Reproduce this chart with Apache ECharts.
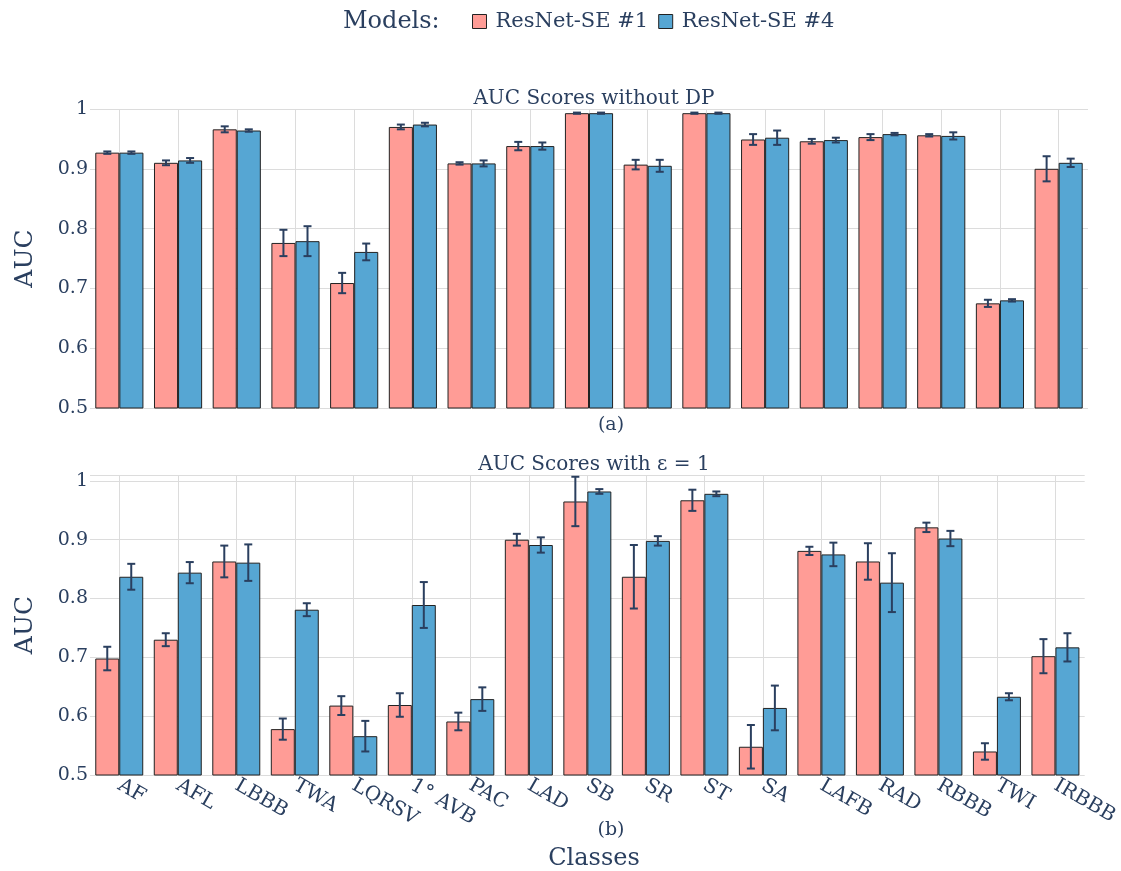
<!DOCTYPE html>
<html>
<head>
<meta charset="utf-8">
<script src="https://cdn.jsdelivr.net/npm/echarts@6/dist/echarts.min.js"></script>
<style>
  html, body { margin: 0; padding: 0; background: #fff; }
  #chart { width: 1121px; height: 871px; }
</style>
</head>
<body>
<div id="chart"></div>
<script>
var myChart = echarts.init(document.getElementById('chart'));

// classes
var classes = ['AF', 'AFL', 'LBBB', 'TWA', 'LQRSV', '1° AVB', 'PAC', 'LAD', 'SB',
               'SR', 'ST', 'SA', 'LAFB', 'RAD', 'RBBB', 'TWI', 'IRBBB'];

// (a) without DP
var auc1NoDP = [0.927, 0.910, 0.966, 0.776, 0.709, 0.970, 0.909, 0.938, 0.993,
                0.907, 0.993, 0.949, 0.946, 0.953, 0.956, 0.675, 0.900];
var err1NoDP = [0.002, 0.004, 0.005, 0.022, 0.017, 0.004, 0.002, 0.007, 0.001,
                0.008, 0.001, 0.009, 0.004, 0.005, 0.002, 0.006, 0.021];
var auc4NoDP = [0.927, 0.914, 0.964, 0.779, 0.761, 0.974, 0.909, 0.938, 0.993,
                0.905, 0.993, 0.952, 0.948, 0.958, 0.955, 0.680, 0.910];
var err4NoDP = [0.002, 0.004, 0.002, 0.025, 0.014, 0.003, 0.005, 0.006, 0.001,
                0.010, 0.001, 0.012, 0.004, 0.002, 0.006, 0.002, 0.007];

// (b) epsilon = 1
var auc1Eps = [0.698, 0.730, 0.863, 0.578, 0.618, 0.619, 0.591, 0.900, 0.965,
               0.837, 0.967, 0.548, 0.881, 0.863, 0.921, 0.540, 0.702];
var err1Eps = [0.020, 0.011, 0.027, 0.018, 0.016, 0.020, 0.015, 0.010, 0.042,
               0.054, 0.018, 0.037, 0.007, 0.031, 0.008, 0.014, 0.029];
var auc4Eps = [0.837, 0.844, 0.861, 0.781, 0.566, 0.789, 0.629, 0.891, 0.982,
               0.898, 0.978, 0.614, 0.875, 0.827, 0.902, 0.633, 0.717];
var err4Eps = [0.022, 0.018, 0.031, 0.011, 0.026, 0.039, 0.020, 0.013, 0.004,
               0.008, 0.004, 0.038, 0.020, 0.050, 0.013, 0.006, 0.024];

var models = ['ResNet-SE #1', 'ResNet-SE #4'];
var colors = ['#FF9C96', '#56A6D3'];

var textColor = '#2a3f5f';
var serif = '"DejaVu Serif", serif';
var catGap = 0.18;

function barSeries(name, idx, gridIdx, values) {
  return {
    name: name,
    type: 'bar',
    xAxisIndex: gridIdx,
    yAxisIndex: gridIdx,
    data: values,
    barGap: 0,
    barCategoryGap: (catGap * 100) + '%',
    itemStyle: { color: colors[idx], borderColor: '#222', borderWidth: 1 },
    z: 2
  };
}

// error bars drawn over grouped bars
function errSeries(idx, gridIdx, values, errs) {
  var data = values.map(function (v, i) { return [i, v - errs[i], v + errs[i]]; });
  return {
    type: 'custom',
    xAxisIndex: gridIdx,
    yAxisIndex: gridIdx,
    data: data,
    z: 5,
    silent: true,
    renderItem: function (params, api) {
      var band = api.size([1, 0])[0];
      var bw = band * (1 - catGap) / 2;
      var off = idx === 0 ? -bw / 2 : bw / 2;
      var lo = api.coord([api.value(0), api.value(1)]);
      var hi = api.coord([api.value(0), api.value(2)]);
      var x = lo[0] + off;
      var cap = 4;
      var st = { stroke: textColor, lineWidth: 2 };
      return {
        type: 'group',
        children: [
          { type: 'line', shape: { x1: x, y1: lo[1], x2: x, y2: hi[1] }, style: st },
          { type: 'line', shape: { x1: x - cap, y1: lo[1], x2: x + cap, y2: lo[1] }, style: st },
          { type: 'line', shape: { x1: x - cap, y1: hi[1], x2: x + cap, y2: hi[1] }, style: st }
        ]
      };
    }
  };
}

function xAxisFor(gridIdx, showLabels) {
  return {
    type: 'category',
    gridIndex: gridIdx,
    data: classes,
    axisLine: { show: false },
    axisTick: { show: false, alignWithLabel: true },
    splitLine: { show: true, alignWithLabel: true, lineStyle: { color: '#dcdcdc', width: 1 } },
    axisLabel: {
      show: showLabels,
      rotate: -30,
      interval: 0,
      margin: 9,
      color: textColor,
      fontFamily: serif,
      fontSize: 20
    }
  };
}

function yAxisFor(gridIdx, max) {
  return {
    type: 'value',
    gridIndex: gridIdx,
    min: 0.5,
    max: max,
    interval: 0.1,
    name: 'AUC',
    nameLocation: 'middle',
    nameGap: 52,
    nameTextStyle: { color: textColor, fontFamily: serif, fontSize: 25 },
    axisLine: { show: false },
    axisTick: { show: false },
    splitLine: { lineStyle: { color: '#dcdcdc', width: 1 } },
    axisLabel: {
      margin: 2,
      color: textColor,
      fontFamily: serif,
      fontSize: 19,
      formatter: function (v) {
        var r = Math.round(v * 10) / 10;
        if (Math.abs(v - r) > 1e-6) return '';
        return r === 1 ? '1' : r.toFixed(1);
      }
    }
  };
}

function label(text, x, y, size) {
  return {
    text: text,
    left: x,
    top: y,
    textAlign: 'center',
    textStyle: { color: textColor, fontFamily: serif, fontSize: size, fontWeight: 'normal' }
  };
}

var option = {
  animation: false,
  backgroundColor: '#fff',
  title: [
    { text: 'Models:', left: 338, top: 5,
      textStyle: { color: textColor, fontFamily: serif, fontSize: 24, fontWeight: 'normal' } },
    label('AUC Scores without DP', 589, 84, 20),
    label('(a)', 606, 411, 19),
    label('AUC Scores with ε = 1', 589, 450, 20),
    label('(b)', 606, 816, 19),
    label('Classes', 589, 842, 24)
  ],
  legend: {
    data: models,
    left: 467,
    top: 6,
    itemWidth: 14,
    itemHeight: 14,
    itemGap: 10,
    icon: 'rect',
    itemStyle: { borderColor: '#222', borderWidth: 1 },
    textStyle: { color: textColor, fontFamily: serif, fontSize: 21, padding: [0, 0, 0, 4] }
  },
  grid: [
    { left: 90, right: 33, top: 109, height: 299 },
    { left: 90, right: 33, top: 475, height: 300 }
  ],
  xAxis: [xAxisFor(0, false), xAxisFor(1, true)],
  yAxis: [yAxisFor(0, 1), yAxisFor(1, 1.01)],
  series: [
    barSeries(models[0], 0, 0, auc1NoDP),
    barSeries(models[1], 1, 0, auc4NoDP),
    barSeries(models[0], 0, 1, auc1Eps),
    barSeries(models[1], 1, 1, auc4Eps),
    errSeries(0, 0, auc1NoDP, err1NoDP),
    errSeries(1, 0, auc4NoDP, err4NoDP),
    errSeries(0, 1, auc1Eps, err1Eps),
    errSeries(1, 1, auc4Eps, err4Eps)
  ]
};

myChart.setOption(option);
</script>
</body>
</html>
